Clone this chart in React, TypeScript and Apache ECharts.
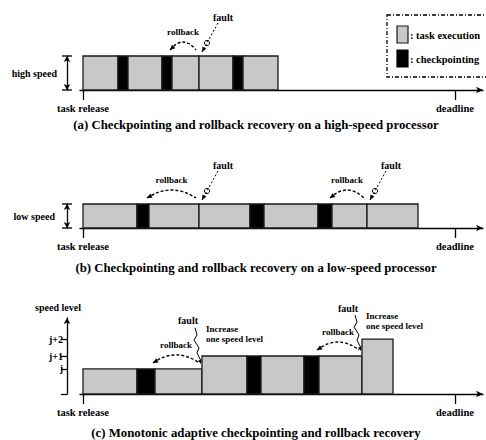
import React, { useEffect, useRef } from "react";
import * as echarts from "echarts";

// ---- data (time units along the task axis, speed-level units upward) ----
const HIGH = 1;
const LOW = 0.7;
const LEVEL_J = 0.74;
const LEVEL_J1 = 1.12;
const LEVEL_J2 = 1.62;
const Y_MAX_C = 2.24;
const DEADLINE = 372;
const X_MIN = -3;
const X_MAX = 400;

// [start, end, speed level, kind]  kind 0 = task execution, 1 = checkpointing
const segmentsA = [
  [0, 35, HIGH, 0], [35, 45, HIGH, 1], [45, 79, HIGH, 0], [79, 89, HIGH, 1],
  [89, 116, HIGH, 0], [116, 150, HIGH, 0], [150, 160, HIGH, 1], [160, 195, HIGH, 0],
];
const segmentsB = [
  [0, 54, LOW, 0], [54, 66, LOW, 1], [66, 116, LOW, 0], [116, 167, LOW, 0],
  [167, 181, LOW, 1], [181, 235, LOW, 0], [235, 249, LOW, 1], [249, 284, LOW, 0],
  [284, 335, LOW, 0],
];
const segmentsC = [
  [0, 54, LEVEL_J, 0], [54, 72, LEVEL_J, 1], [72, 119, LEVEL_J, 0],
  [119, 164, LEVEL_J1, 0], [164, 178, LEVEL_J1, 1], [178, 221, LEVEL_J1, 0],
  [221, 236, LEVEL_J1, 1], [236, 279, LEVEL_J1, 0], [279, 310, LEVEL_J2, 0],
];

// faults: [time, level]; rollbacks: [from, to, level]
const faultsA = [[116, HIGH]];
const rollbacksA = [[89, 116, HIGH]];
const faultsB = [[116, LOW], [284, LOW]];
const rollbacksB = [[66, 116, LOW], [249, 284, LOW]];
const faultsC = [[119, LEVEL_J], [279, LEVEL_J1]];
const rollbacksC = [[72, 119, LEVEL_J], [236, 279, LEVEL_J1]];

const levelValuesC = [LEVEL_J, LEVEL_J1, LEVEL_J2];
const levelLabelsC = ["j", "j+1", "j+2"];
const xTickValues = [0, DEADLINE];
const xTickLabels = ["task release", "deadline"];
const speedNames = ["high speed", "low speed", "speed level"];
const captions = [
  "(a) Checkpointing and rollback recovery on a high-speed processor",
  "(b) Checkpointing and rollback recovery on a low-speed processor",
  "(c) Monotonic adaptive checkpointing and rollback recovery",
];
const legendLabels = [": task execution", ": checkpointing"];
const faultLabel = "fault";
const rollbackLabel = "rollback";
const increaseLabel = "Increase\none speed level";

// ---- styles ----
const FONT = "Liberation Serif, DejaVu Serif, serif";
const GRAY = "#c8c8c8";
const INK = "#000";
const textBase = { fontFamily: FONT, fontWeight: "bold" as const, color: INK };

const gridBoxes = [
  { left: 80, width: 403, top: 56, height: 34 },
  { left: 80, width: 403, top: 204, height: 24 },
  { left: 80, width: 403, top: 318, height: 76 },
];
const captionY = [125, 268, 433];

function renderSegment(params: any, api: any) {
  const s = api.value(0);
  const e = api.value(1);
  const lv = api.value(2);
  const k = api.value(3);
  const p0 = api.coord([s, lv]);
  const p1 = api.coord([e, 0]);
  return {
    type: "rect",
    shape: { x: p0[0], y: p0[1], width: p1[0] - p0[0], height: p1[1] - p0[1] },
    style: { fill: k ? INK : GRAY, stroke: "#1a1a1a", lineWidth: 1.3 },
  };
}

function xAxisFor(i: number) {
  return {
    type: "value",
    gridIndex: i,
    min: X_MIN,
    max: X_MAX,
    axisLine: {
      show: true,
      onZero: false,
      lineStyle: { color: INK, width: 1.3 },
      symbol: ["none", "arrow"],
      symbolSize: [5, 7],
    },
    axisTick: {
      show: true,
      customValues: xTickValues,
      length: 10,
      lineStyle: { color: INK, width: 1.3 },
    },
    axisLabel: {
      show: true,
      customValues: xTickValues,
      formatter: (v: number) => xTickLabels[xTickValues.indexOf(v)] ?? "",
      margin: 13,
      fontSize: 10.5,
      ...textBase,
    },
    splitLine: { show: false },
  };
}

function nearestLabel(v: number) {
  let best = 0;
  levelValuesC.forEach((lv, i) => {
    if (Math.abs(lv - v) < Math.abs(levelValuesC[best] - v)) best = i;
  });
  return levelLabelsC[best];
}

const yLine = (symbol: string[]) => ({
  show: true,
  onZero: false,
  symbol,
  symbolSize: [5, 6],
  lineStyle: { color: INK, width: 1.3 },
});

const baseOption: any = {
  animation: false,
  backgroundColor: "#fff",
  textStyle: { fontFamily: FONT },
  grid: gridBoxes.map((g) => ({ ...g, containLabel: false })),
  xAxis: [0, 1, 2].map(xAxisFor),
  yAxis: [
    {
      type: "value", gridIndex: 0, min: 0, max: HIGH, offset: 13,
      axisLine: yLine(["arrow", "arrow"]),
      axisTick: { show: false }, axisLabel: { show: false }, splitLine: { show: false },
      name: speedNames[0], nameLocation: "middle", nameRotate: 0, nameGap: 10,
      nameTextStyle: { ...textBase, fontSize: 10 },
    },
    {
      type: "value", gridIndex: 1, min: 0, max: LOW, offset: 13,
      axisLine: yLine(["arrow", "arrow"]),
      axisTick: { show: false }, axisLabel: { show: false }, splitLine: { show: false },
      name: speedNames[1], nameLocation: "middle", nameRotate: 0, nameGap: 12,
      nameTextStyle: { ...textBase, fontSize: 10 },
    },
    {
      type: "value", gridIndex: 2, min: 0, max: Y_MAX_C, offset: 13,
      axisLine: yLine(["none", "arrow"]),
      axisTick: { show: true, customValues: [0, ...levelValuesC], length: 6, lineStyle: { color: INK, width: 1.3 } },
      axisLabel: { show: true, customValues: levelValuesC, formatter: (v: number) => nearestLabel(v), margin: 4, fontSize: 10, ...textBase },
      splitLine: { show: false },
      name: speedNames[2], nameLocation: "end", nameGap: 6,
      nameTextStyle: { ...textBase, fontSize: 10, padding: [0, 18, 0, 0] },
    },
  ],
  series: [segmentsA, segmentsB, segmentsC].map((d, i) => ({
    type: "custom",
    xAxisIndex: i,
    yAxisIndex: i,
    clip: false,
    encode: { x: [0, 1], y: 2 },
    renderItem: renderSegment,
    data: d,
  })),
};

function arrowHead(tx: number, ty: number, fx: number, fy: number, len = 5, half = 2.4) {
  const dx = tx - fx;
  const dy = ty - fy;
  const L = Math.hypot(dx, dy) || 1;
  const ux = dx / L;
  const uy = dy / L;
  const bx = tx - ux * len;
  const by = ty - uy * len;
  return {
    type: "polygon",
    shape: { points: [[tx, ty], [bx - uy * half, by + ux * half], [bx + uy * half, by - ux * half]] },
    style: { fill: INK },
  };
}

function txt(text: string, x: number, y: number, size: number, align = "center", vAlign = "middle", extra: any = {}) {
  return {
    type: "text",
    x,
    y,
    style: {
      text,
      fill: INK,
      fontFamily: FONT,
      fontWeight: "bold",
      fontSize: size,
      align,
      verticalAlign: vAlign,
      ...extra,
    },
  };
}

function buildGraphics(chart: any) {
  const px = (g: number, x: number, y: number) =>
    chart.convertToPixel({ xAxisIndex: g, yAxisIndex: g }, [x, y]) as number[];
  const els: any[] = [];

  // dimension caps on the speed arrows of (a) and (b)
  [[0, HIGH], [1, LOW]].forEach(([g, lv]) => {
    const top = px(g, X_MIN, lv);
    const bot = px(g, X_MIN, 0);
    const ax = top[0] - 13;
    [top[1], bot[1]].forEach((y) => {
      els.push({ type: "line", shape: { x1: ax - 5, y1: y, x2: ax + 5, y2: y }, style: { stroke: INK, lineWidth: 1.3 } });
    });
  });

  // rollback arcs
  const rollbackEls = (g: number, list: number[][]) => {
    list.forEach(([s, e, lv]) => {
      const p1 = px(g, s, lv);
      const p2 = px(g, e, lv);
      const x1 = p1[0] - 2;
      const x2 = p2[0] - 3;
      const yEnd = p1[1] - 6;
      const cpx = (x1 + x2) / 2;
      const cpy = p1[1] - 22;
      els.push({
        type: "bezierCurve",
        shape: { x1, y1: yEnd, x2, y2: yEnd, cpx1: cpx, cpy1: cpy },
        style: { stroke: INK, lineWidth: 1.4, lineDash: [3, 2], fill: "none" },
      });
      const t = 0.2;
      const qx = (1 - t) * (1 - t) * x1 + 2 * (1 - t) * t * cpx + t * t * x2;
      const qy = (1 - t) * (1 - t) * yEnd + 2 * (1 - t) * t * cpy + t * t * yEnd;
      els.push(arrowHead(x1, yEnd, qx, qy));
      els.push(txt(rollbackLabel, cpx, p1[1] - 24, 9));
    });
  };
  rollbackEls(0, rollbacksA);
  rollbackEls(1, rollbacksB);
  rollbackEls(2, rollbacksC);

  // faults in (a) and (b)
  const straightFault = (g: number, list: number[][]) => {
    list.forEach(([t, lv]) => {
      const p = px(g, t, lv);
      els.push(txt(faultLabel, p[0] + 24, p[1] - 39, 10));
      const sx = p[0] + 19;
      const sy = p[1] - 33;
      const ex = p[0] + 3;
      const ey = p[1] - 4;
      els.push({ type: "line", shape: { x1: sx, y1: sy, x2: ex, y2: ey }, style: { stroke: INK, lineWidth: 1, lineDash: [2, 2] } });
      els.push(arrowHead(ex, ey, sx, sy, 5, 2.2));
      els.push({ type: "circle", shape: { cx: p[0] + 8, cy: p[1] - 13, r: 2.6 }, style: { fill: "none", stroke: INK, lineWidth: 1 } });
    });
  };
  straightFault(0, faultsA);
  straightFault(1, faultsB);

  // faults in (c): zig-zag and speed increase note
  faultsC.forEach(([t, lv]) => {
    const p = px(2, t, lv);
    els.push(txt(faultLabel, p[0] - 14, p[1] - 48, 10));
    const pts = [
      [p[0] - 7, p[1] - 41], [p[0] - 5, p[1] - 34], [p[0] - 8, p[1] - 29],
      [p[0] - 3, p[1] - 21], [p[0] - 5, p[1] - 16], [p[0] - 1, p[1] - 8],
    ];
    els.push({ type: "polyline", shape: { points: pts }, style: { stroke: INK, lineWidth: 1, fill: "none" } });
    els.push(arrowHead(p[0] - 1, p[1] - 5, p[0] - 4, p[1] - 14, 4, 2));
    els.push(txt(increaseLabel, p[0] + 4, p[1] - 45, 9, "left", "top", { lineHeight: 10 }));
  });

  // legend
  els.push({
    type: "rect",
    shape: { x: 387, y: 15, width: 110, height: 62 },
    style: { fill: "none", stroke: INK, lineWidth: 1.3, lineDash: [4, 2, 1, 2] },
  });
  els.push({ type: "rect", shape: { x: 397, y: 26, width: 11, height: 17 }, style: { fill: GRAY, stroke: "#1a1a1a", lineWidth: 1.2 } });
  els.push({ type: "rect", shape: { x: 397, y: 50, width: 11, height: 17 }, style: { fill: INK, stroke: INK, lineWidth: 1.2 } });
  els.push(txt(legendLabels[0], 410, 35, 10.5, "left"));
  els.push(txt(legendLabels[1], 410, 59, 10.5, "left"));

  // captions
  captions.forEach((c, i) => els.push(txt(c, 256, captionY[i], 12.8)));

  return els;
}

export default function App() {
  const ref = useRef<HTMLDivElement>(null);
  useEffect(() => {
    const chart = echarts.init(ref.current!, undefined, { renderer: "svg" });
    chart.setOption(baseOption);
    chart.setOption({ graphic: buildGraphics(chart) });
    return () => chart.dispose();
  }, []);
  return (
    <div
      ref={ref}
      style={{ position: "fixed", left: 0, top: 0, width: 486, height: 440, background: "#fff" }}
    />
  );
}
